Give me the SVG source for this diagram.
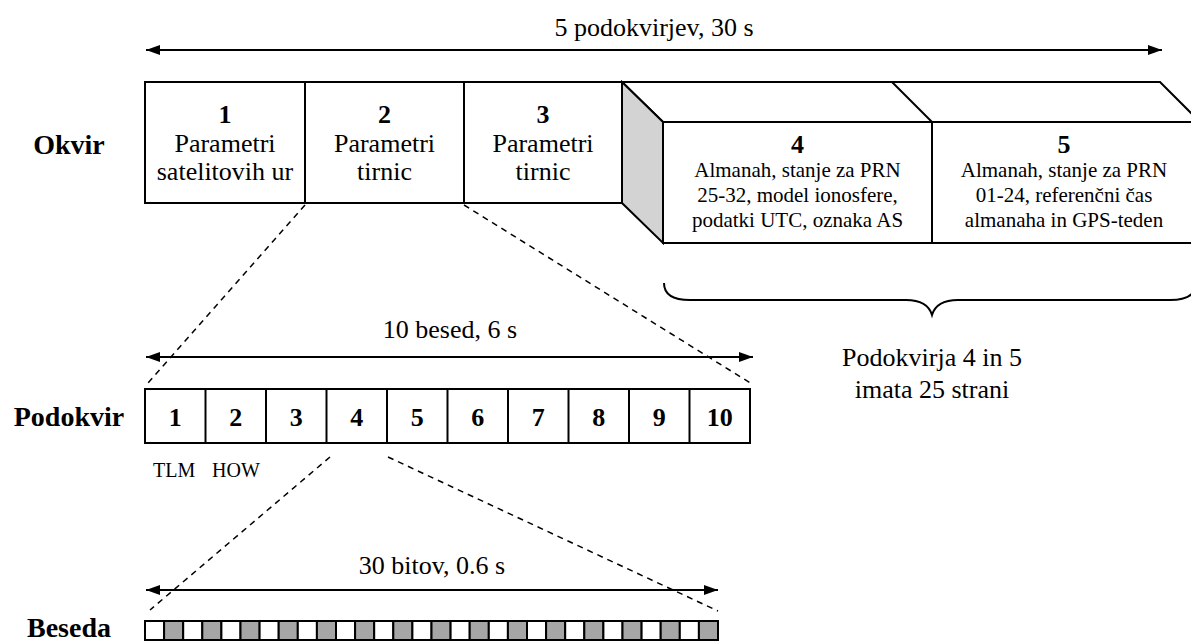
<svg xmlns="http://www.w3.org/2000/svg" width="1191" height="641" viewBox="0 0 1191 641" font-family="'Liberation Serif', 'DejaVu Serif', serif">
  <defs>
    <marker id="head" viewBox="0 0 14 10" refX="14" refY="5" markerWidth="14" markerHeight="10" markerUnits="userSpaceOnUse" orient="auto-start-reverse">
      <path d="M0,0 L14,5 L0,10 Z" fill="#000"/>
    </marker>
    <style>
      text { font-family: 'Liberation Serif', 'DejaVu Serif', serif; fill: #000; }
      .lbl { font-size: 28px; font-weight: bold; text-anchor: middle; }
      .big { font-size: 26px; text-anchor: middle; }
      .num { font-size: 26px; font-weight: bold; text-anchor: middle; }
      .small { font-size: 21px; text-anchor: middle; }
      .tag { font-size: 20px; }
      .box { fill: #fff; stroke: #000; stroke-width: 2; }
      .side { fill: #d3d3d3; stroke: #000; stroke-width: 2; stroke-linejoin: miter; }
      .span { stroke: #000; stroke-width: 2; fill: none; marker-start: url(#head); marker-end: url(#head); }
      .dash { stroke: #000; stroke-width: 1.5; stroke-dasharray: 6 5; fill: none; }
      .bit0 { fill: #fff; stroke: #000; stroke-width: 2; }
      .bit1 { fill: #a6a6a6; stroke: #000; stroke-width: 2; }
    </style>
  </defs>

  <!-- row labels -->
  <text class="lbl" x="69" y="154">Okvir</text>
  <text class="lbl" x="69" y="426">Podokvir</text>
  <text class="lbl" x="69" y="637">Beseda</text>

  <!-- span arrows and zoom guides -->
  <g id="connectors">
    <line class="span" x1="146" y1="50" x2="1162" y2="50"/>
    <line class="span" x1="146" y1="357" x2="753" y2="357"/>
    <line class="span" x1="146" y1="590" x2="718" y2="590"/>
    <line class="dash" x1="305" y1="205" x2="148" y2="383"/>
    <line class="dash" x1="464" y1="205" x2="752" y2="384"/>
    <line class="dash" x1="330" y1="457" x2="150" y2="610"/>
    <line class="dash" x1="388" y1="457" x2="718" y2="611"/>
  </g>
  <text class="big" x="654" y="36">5 podokvirjev, 30 s</text>
  <text class="big" x="450" y="338">10 besed, 6 s</text>
  <text class="big" x="432" y="574">30 bitov, 0.6 s</text>

  <!-- frame: subframes 1-3 -->
  <g id="sf1">
    <rect class="box" x="145" y="82" width="160" height="121"/>
    <text class="num" x="225" y="123">1</text>
    <text class="big" x="225" y="152">Parametri</text>
    <text class="big" x="225" y="180">satelitovih ur</text>
  </g>
  <g id="sf2">
    <rect class="box" x="305" y="82" width="159" height="121"/>
    <text class="num" x="384.5" y="123">2</text>
    <text class="big" x="384.5" y="152">Parametri</text>
    <text class="big" x="384.5" y="180">tirnic</text>
  </g>
  <g id="sf3">
    <rect class="box" x="464" y="82" width="158" height="121"/>
    <text class="num" x="543" y="123">3</text>
    <text class="big" x="543" y="152">Parametri</text>
    <text class="big" x="543" y="180">tirnic</text>
  </g>

  <!-- paged subframes 4 and 5 drawn as a stack -->
  <g id="sf45-stack">
    <polygon class="box" points="622,82 1160,82 1200,122 663,122"/>
    <line x1="892" y1="82" x2="932" y2="122" stroke="#000" stroke-width="2"/>
    <polygon class="side" points="622,82 663,122 663,243 622,203"/>
  </g>
  <g id="sf4">
    <rect class="box" x="663" y="122" width="269" height="121"/>
    <text class="num" x="797.5" y="153">4</text>
    <text class="small" x="797.5" y="177">Almanah, stanje za PRN</text>
    <text class="small" x="797.5" y="202">25-32, model ionosfere,</text>
    <text class="small" x="797.5" y="227">podatki UTC, oznaka AS</text>
  </g>
  <g id="sf5">
    <rect class="box" x="932" y="122" width="264" height="121"/>
    <text class="num" x="1064" y="153">5</text>
    <text class="small" x="1064" y="177">Almanah, stanje za PRN</text>
    <text class="small" x="1064" y="202">01-24, referenčni čas</text>
    <text class="small" x="1064" y="227">almanaha in GPS-teden</text>
  </g>

  <!-- brace under subframes 4 and 5 -->
  <g id="brace">
    <path d="M664,283 C664,294 672,300 690,300 L906,300 C921,300 929,305 932,315 C935,305 943,300 958,300 L1170,300 C1188,300 1196,294 1196,283" fill="none" stroke="#000" stroke-width="2"/>
    <text class="big" x="932" y="366">Podokvirja 4 in 5</text>
    <text class="big" x="932" y="398">imata 25 strani</text>
  </g>

  <!-- subframe: 10 words -->
  <g id="subframe">
    <rect class="box" x="145" y="389" width="605" height="54"/>
    <g stroke="#000" stroke-width="2">
      <line x1="205.5" y1="389" x2="205.5" y2="443"/>
      <line x1="266" y1="389" x2="266" y2="443"/>
      <line x1="326.5" y1="389" x2="326.5" y2="443"/>
      <line x1="387" y1="389" x2="387" y2="443"/>
      <line x1="447.5" y1="389" x2="447.5" y2="443"/>
      <line x1="508" y1="389" x2="508" y2="443"/>
      <line x1="568.5" y1="389" x2="568.5" y2="443"/>
      <line x1="629" y1="389" x2="629" y2="443"/>
      <line x1="689.5" y1="389" x2="689.5" y2="443"/>
    </g>
    <text class="num" x="175.25" y="426">1</text>
    <text class="num" x="235.75" y="426">2</text>
    <text class="num" x="296.25" y="426">3</text>
    <text class="num" x="356.75" y="426">4</text>
    <text class="num" x="417.25" y="426">5</text>
    <text class="num" x="477.75" y="426">6</text>
    <text class="num" x="538.25" y="426">7</text>
    <text class="num" x="598.75" y="426">8</text>
    <text class="num" x="659.25" y="426">9</text>
    <text class="num" x="719.75" y="426">10</text>
    <text class="tag" x="153" y="477">TLM</text>
    <text class="tag" x="212" y="477">HOW</text>
  </g>

  <!-- word: 30 bits, alternating white and grey -->
  <g id="word">
    <rect class="bit0" x="145" y="621" width="19.1" height="19"/>
    <rect class="bit1" x="164.1" y="621" width="19.1" height="19"/>
    <rect class="bit0" x="183.2" y="621" width="19.1" height="19"/>
    <rect class="bit1" x="202.3" y="621" width="19.1" height="19"/>
    <rect class="bit0" x="221.4" y="621" width="19.1" height="19"/>
    <rect class="bit1" x="240.5" y="621" width="19.1" height="19"/>
    <rect class="bit0" x="259.6" y="621" width="19.1" height="19"/>
    <rect class="bit1" x="278.7" y="621" width="19.1" height="19"/>
    <rect class="bit0" x="297.8" y="621" width="19.1" height="19"/>
    <rect class="bit1" x="316.9" y="621" width="19.1" height="19"/>
    <rect class="bit0" x="336" y="621" width="19.1" height="19"/>
    <rect class="bit1" x="355.1" y="621" width="19.1" height="19"/>
    <rect class="bit0" x="374.2" y="621" width="19.1" height="19"/>
    <rect class="bit1" x="393.3" y="621" width="19.1" height="19"/>
    <rect class="bit0" x="412.4" y="621" width="19.1" height="19"/>
    <rect class="bit1" x="431.5" y="621" width="19.1" height="19"/>
    <rect class="bit0" x="450.6" y="621" width="19.1" height="19"/>
    <rect class="bit1" x="469.7" y="621" width="19.1" height="19"/>
    <rect class="bit0" x="488.8" y="621" width="19.1" height="19"/>
    <rect class="bit1" x="507.9" y="621" width="19.1" height="19"/>
    <rect class="bit0" x="527" y="621" width="19.1" height="19"/>
    <rect class="bit1" x="546.1" y="621" width="19.1" height="19"/>
    <rect class="bit0" x="565.2" y="621" width="19.1" height="19"/>
    <rect class="bit1" x="584.3" y="621" width="19.1" height="19"/>
    <rect class="bit0" x="603.4" y="621" width="19.1" height="19"/>
    <rect class="bit1" x="622.5" y="621" width="19.1" height="19"/>
    <rect class="bit0" x="641.6" y="621" width="19.1" height="19"/>
    <rect class="bit1" x="660.7" y="621" width="19.1" height="19"/>
    <rect class="bit0" x="679.8" y="621" width="19.1" height="19"/>
    <rect class="bit1" x="698.9" y="621" width="19.1" height="19"/>
  </g>
</svg>
